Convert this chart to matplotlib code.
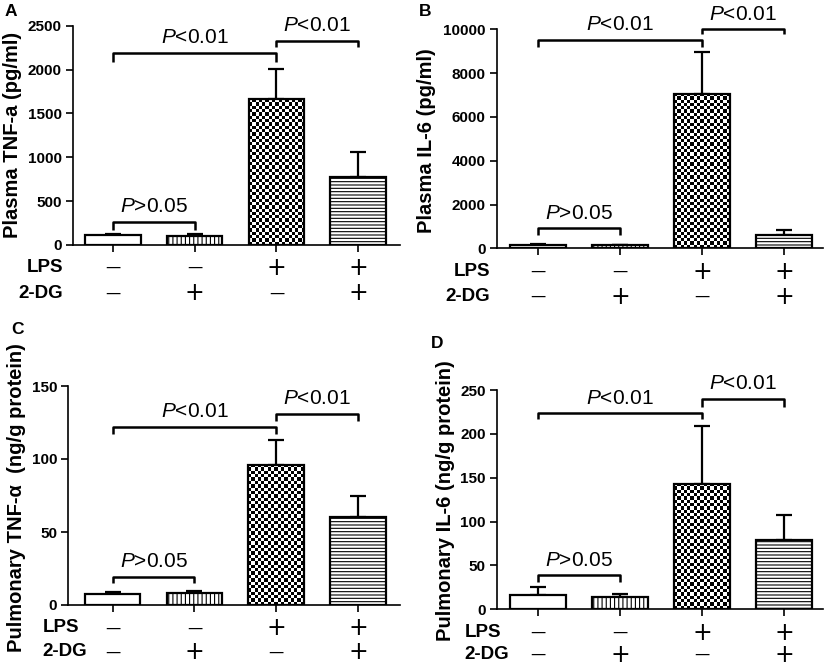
import numpy as np
import matplotlib
matplotlib.use("Agg")
import matplotlib.pyplot as plt
from matplotlib.transforms import blended_transform_factory

plt.rcParams['font.family'] = ['Liberation Sans', 'DejaVu Sans']
plt.rcParams['hatch.linewidth'] = 0.8
plt.rcParams['mathtext.fontset'] = 'custom'
plt.rcParams['mathtext.rm'] = 'Liberation Sans'
plt.rcParams['mathtext.it'] = 'Liberation Sans:italic'

# ---------------- data ----------------
groups = ["Control", "2-DG", "LPS", "LPS+2-DG"]
lps_signs = ["\u2014", "\u2014", "+", "+"]
dg_signs = ["\u2014", "+", "\u2014", "+"]

tnf_plasma = [110, 100, 1660, 772]
tnf_plasma_err = [20, 20, 350, 285]
il6_plasma = [150, 130, 7050, 610]
il6_plasma_err = [40, 40, 1900, 230]
tnf_lung = [7.5, 8.2, 96, 60]
tnf_lung_err = [1.4, 1.4, 17, 14.6]
il6_lung = [16, 14, 143, 79]
il6_lung_err = [9, 3.5, 66, 28]

ylabels = ["Plasma TNF-a (pg/ml)", "Plasma IL-6 (pg/ml)",
           "Pulmonary TNF-\u03b1  (ng/g protein)", "Pulmonary IL-6 (ng/g protein)"]
letters = ["A", "B", "C", "D"]
yticks_list = [[0, 500, 1000, 1500, 2000, 2500],
               [0, 2000, 4000, 6000, 8000, 10000],
               [0, 50, 100, 150],
               [0, 50, 100, 150, 200, 250]]
# brackets: (left group, right group, bracket level, leg bottom, label)
brackets_list = [
    [(0, 1, 266, 171, "P>0.05"), (0, 2, 2192, 2090, "P<0.01"), (2, 3, 2329, 2254, "P<0.01")],
    [(0, 1, 913, 608, "P>0.05"), (0, 2, 9510, 9200, "P<0.01"), (2, 3, 10000, 9800, "P<0.01")],
    [(0, 1, 19.4, 14.8, "P>0.05"), (0, 2, 122, 117, "P<0.01"), (2, 3, 131, 126, "P<0.01")],
    [(0, 1, 39, 31.5, "P>0.05"), (0, 2, 223.5, 216.6, "P<0.01"), (2, 3, 240, 231, "P<0.01")],
]
values = [tnf_plasma, il6_plasma, tnf_lung, il6_lung]
errors = [tnf_plasma_err, il6_plasma_err, tnf_lung_err, il6_lung_err]

W, H = 828, 666
fig = plt.figure(figsize=(W / 100, H / 100), dpi=100)

def fx(px):
    return px / W

def fy(py):
    return 1 - py / H

# axes boxes in pixels: left, right, top, bottom
boxes = [(73, 400, 25.7, 245), (496.7, 823.5, 29.3, 248.3),
         (68.3, 400, 386, 605), (496.7, 823.5, 390, 609.3)]
xlims = [(-0.485, 3.51), (-0.505, 3.48), (-0.54, 3.51), (-0.505, 3.48)]
ylab_pos = [(12.5, 135), (427, 141), (17, 498), (446, 501)]
letter_pos = [(11, 11), (425, 11), (18, 329), (437, 344)]
row_y = [(267.7, 293), (271.7, 296.7), (628, 652), (632.7, 654.5)]
row_x = [(63, 'right'), (490, 'right'), (42.5, 'left'), (464.7, 'left')]

x = np.arange(len(groups))
bar_w = 0.68

for i in range(4):
    l, r, t, b = boxes[i]
    ax = fig.add_axes([fx(l), fy(b), fx(r) - fx(l), fy(t) - fy(b)])
    vals = values[i]
    errs = errors[i]
    ymax = yticks_list[i][-1]
    ax.set_xlim(*xlims[i])
    ax.set_ylim(0, ymax)

    ax.errorbar(x, vals, yerr=[np.zeros(len(vals)), errs], fmt='none', ecolor='black',
                elinewidth=1.6, capsize=6, capthick=1.6, zorder=1)
    bars = ax.bar(x, vals, width=bar_w, color='white', edgecolor='none', zorder=2)
    bars[1].set_hatch('||||')
    bars[1].set_edgecolor('black')
    bars[1].set_linewidth(0)
    bars[3].set_hatch('-----')
    bars[3].set_edgecolor('black')
    bars[3].set_linewidth(0)

    # checkerboard fill for LPS bar
    fig.canvas.draw()
    x0, x1 = x[2] - bar_w / 2, x[2] + bar_w / 2
    p0 = ax.transData.transform((x0, 0))
    p1 = ax.transData.transform((x1, vals[2]))
    cell = 3.3
    nx = max(1, int(round((p1[0] - p0[0]) / cell)))
    ny = max(1, int(round((p1[1] - p0[1]) / cell)))
    checker = (np.indices((ny, nx)).sum(axis=0) % 2).astype(float)
    im = ax.imshow(checker, extent=[x0, x1, 0, vals[2]], cmap='gray', interpolation='nearest',
                   aspect='auto', origin='lower', zorder=2.1, vmin=0, vmax=1)
    im.set_clip_path(bars[2])
    ax.set_xlim(*xlims[i])
    ax.set_ylim(0, ymax)

    # outlines
    ax.bar(x, vals, width=bar_w, fill=False, edgecolor='black', linewidth=1.6, zorder=3)

    for s in ['top', 'right']:
        ax.spines[s].set_visible(False)
    for s in ['left', 'bottom']:
        ax.spines[s].set_linewidth(1.2)
    ax.set_yticks(yticks_list[i])
    ax.set_yticklabels([str(v) for v in yticks_list[i]], fontsize=11, fontweight='bold')
    ax.set_xticks(x)
    ax.set_xticklabels([])
    ax.tick_params(axis='both', length=5, width=1.2, direction='out', pad=3)

    # brackets
    for (g1, g2, yb, yl, lab) in brackets_list[i]:
        ax.plot([g1, g1, g2, g2], [yl, yb, yb, yl], color='black', lw=1.8,
                clip_on=False, zorder=4, solid_capstyle='butt')
        ax.annotate('$\\mathit{P}$' + lab[1:], xy=((g1 + g2) / 2, yb), xytext=(0, 4),
                    textcoords='offset points', ha='center', va='bottom', fontsize=15,
                    annotation_clip=False)

    # treatment rows
    ly, dy = row_y[i]
    rx, ha = row_x[i]
    fig.text(fx(rx), fy(ly), "LPS", fontsize=13.5, fontweight='bold', ha=ha, va='center')
    fig.text(fx(rx), fy(dy), "2-DG", fontsize=13.5, fontweight='bold', ha=ha, va='center')
    trans = blended_transform_factory(ax.transData, fig.transFigure)
    for k in range(len(groups)):
        for yy, sign in ((ly, lps_signs[k]), (dy, dg_signs[k])):
            fs = 17 if sign == "+" else 11
            ax.text(x[k], fy(yy), sign, transform=trans, fontsize=fs, ha='center',
                    va='center', family=['DejaVu Sans'], clip_on=False)

    # y labels and panel letters
    fig.text(fx(ylab_pos[i][0]), fy(ylab_pos[i][1]), ylabels[i], rotation=90, fontsize=14.5,
             fontweight='bold', ha='center', va='center')
    fig.text(fx(letter_pos[i][0]), fy(letter_pos[i][1]), letters[i], fontsize=12.5,
             fontweight='bold', ha='center', va='center')

fig.savefig("out.png", dpi=100)
